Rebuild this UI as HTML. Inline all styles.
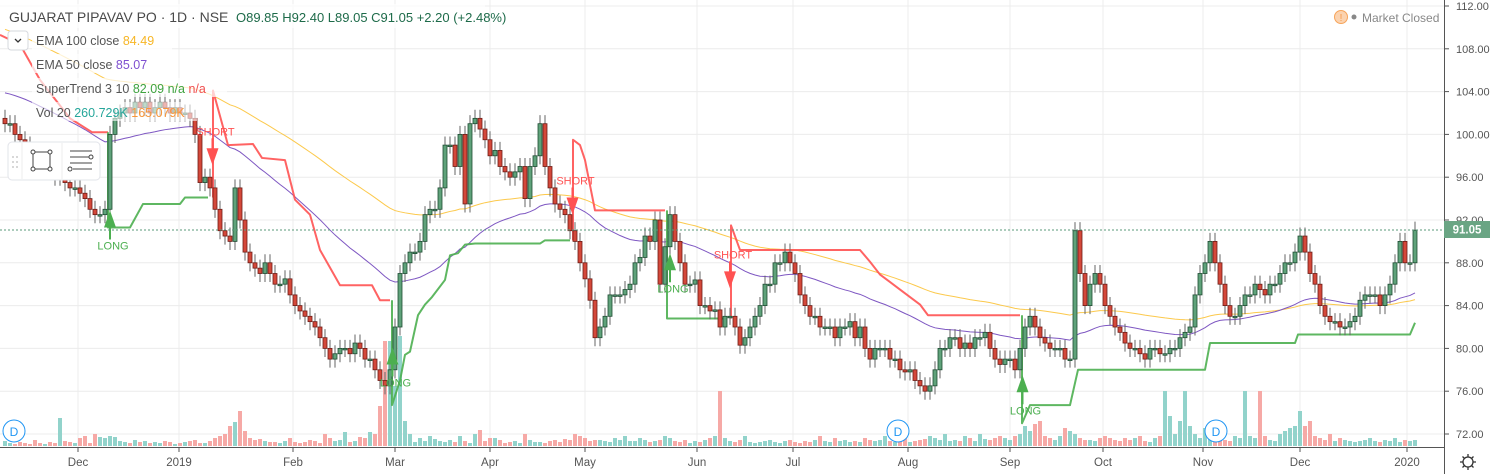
<!DOCTYPE html>
<html><head><meta charset="utf-8">
<style>
html,body{margin:0;padding:0;background:#fff;}
svg{display:block;font-family:"Liberation Sans",sans-serif;}
</style></head>
<body>
<svg id="chart" width="1494" height="474" viewBox="0 0 1494 474" xmlns="http://www.w3.org/2000/svg">
<rect x="0" y="0" width="1494" height="474" fill="#fff"/>
<g id="grid"></g>
<g id="vol"></g>
<g id="ema"></g>
<g id="st"></g>
<g id="candles"></g>
<g id="signals"></g>
<line x1="0" y1="230" x2="1444" y2="230" stroke="#5a9a7a" stroke-dasharray="2,2" stroke-width="1"/>
<g id="axes"></g>

<g>
  <rect x="0" y="4" width="485" height="24" fill="#fff" opacity="0.75"/>
  <text x="9" y="22" font-size="14" fill="#4a4a4a">GUJARAT PIPAVAV PO · 1D · NSE</text>
  <text x="236" y="22" font-size="13" fill="#1e6b4a">O89.85  H92.40  L89.05  C91.05  +2.20 (+2.48%)</text>
  <rect x="8" y="31" width="20" height="19" rx="3" fill="#fff" stroke="#d6d8de"/>
  <path d="M15 39 l3 3 l3 -3" fill="none" stroke="#333" stroke-width="1.3"/>
  <rect x="32" y="31" width="140" height="19" fill="#fff" opacity="0.75"/>
  <text x="36" y="45" font-size="12.5" fill="#555">EMA 100 close <tspan fill="#f7b626">84.49</tspan></text>
  <rect x="32" y="54" width="140" height="19" fill="#fff" opacity="0.75"/>
  <text x="36" y="69" font-size="12.5" fill="#555">EMA 50 close <tspan fill="#7e4fd0">85.07</tspan></text>
  <rect x="32" y="78" width="195" height="19" fill="#fff" opacity="0.7"/>
  <text x="36" y="93" font-size="12.5" fill="#555">SuperTrend 3 10 <tspan fill="#3fa33f">82.09</tspan> <tspan fill="#3fa33f">n/a</tspan> <tspan fill="#f05050">n/a</tspan></text>
  <rect x="32" y="102" width="165" height="19" fill="#fff" opacity="0.6"/>
  <text x="36" y="117" font-size="12.5" fill="#555">Vol 20 <tspan fill="#26a69a">260.729K</tspan> <tspan fill="#f7963a">165.079K</tspan></text>
</g>

<g>
  <rect x="8" y="142" width="92" height="38" rx="4" fill="#fff" stroke="#e2e4ea"/>
  <line x1="22" y1="143" x2="22" y2="179" stroke="#eee"/>
  <line x1="62" y1="143" x2="62" y2="179" stroke="#eee"/>
  <g fill="#ccc"><circle cx="13" cy="157" r="1"/><circle cx="17" cy="157" r="1"/><circle cx="13" cy="162" r="1"/><circle cx="17" cy="162" r="1"/><circle cx="13" cy="167" r="1"/><circle cx="17" cy="167" r="1"/></g>
  <g stroke="#444" fill="#fff" stroke-width="1">
    <rect x="33" y="152" width="17" height="17" fill="none"/>
    <circle cx="33" cy="152" r="2"/><circle cx="50" cy="152" r="2"/><circle cx="33" cy="169" r="2"/><circle cx="50" cy="169" r="2"/>
  </g>
  <g stroke="#444" fill="#fff" stroke-width="1">
    <line x1="70" y1="151" x2="92" y2="151"/><line x1="70" y1="157" x2="89" y2="157"/><circle cx="91" cy="157" r="2"/>
    <line x1="70" y1="163" x2="92" y2="163"/><line x1="73" y1="169" x2="92" y2="169"/><circle cx="70" cy="169" r="2"/>
  </g>
</g>

<g>
  <circle cx="1341" cy="17" r="6.5" fill="#fbd3b0" stroke="#f7a45a"/>
  <text x="1341" y="21" font-size="10" fill="#f79a4a" text-anchor="middle">!</text>
  <circle cx="1354" cy="17" r="2.5" fill="#888"/>
  <text x="1362" y="22" font-size="12" fill="#888">Market Closed</text>
</g>
<g>
  <circle cx="14" cy="431" r="11" fill="#fff" stroke="#2196f3"/><text x="14" y="436" font-size="12" fill="#2196f3" text-anchor="middle">D</text>
  <circle cx="898" cy="431" r="11" fill="#fff" stroke="#2196f3"/><text x="898" y="436" font-size="12" fill="#2196f3" text-anchor="middle">D</text>
  <circle cx="1216" cy="431" r="11" fill="#fff" stroke="#2196f3"/><text x="1216" y="436" font-size="12" fill="#2196f3" text-anchor="middle">D</text>
</g>
<rect x="1444" y="221" width="46" height="17" fill="#6aa584"/>
<text x="1467" y="233.5" font-size="11.5" font-weight="bold" fill="#fff" text-anchor="middle">91.05</text>
<g stroke="#333" fill="none" stroke-width="1.3">
  <circle cx="1468" cy="462" r="5"/>
  <path d="M1468 454v3M1468 467v3M1460 462h3M1473 462h3M1462.5 456.5l2 2M1471.5 465.5l2 2M1462.5 467.5l2-2M1471.5 458.5l2-2"/>
</g>

<script>
const closes=[101,101,100,99.5,99,98,97.5,97,97,96.5,
96,96,95.5,95,95,94.5,94,93,92.5,92.5,
93,100,101.5,102,102.5,102,103,102.5,103,102,
102.5,103,102.5,102,102.5,102,102,101.5,100,95.5,
96,95,93,91,90.5,90,95,92,89,88,
87.5,87,88,87,86,86,86.5,85,84,83.5,
83,82.5,82,81,80,79,79.5,80,80,79.5,
80.5,80,79,79,78,77,76.5,78,82,87,
88,89,89,90,92.5,93,93,95,99,99,
97,100,93.5,101,101.5,100.5,99.5,98,98.5,97,
96.5,96,96.5,97,94,97,98,101,97,95,
93.5,93,92.5,91,90,88,86.5,84.5,81,82,
83,85,85,85,85.5,86,88,88.5,90.5,90,
92,86,89.5,92.5,90,88,86,86,86.4,84,
84,83.5,83.6,82,83,83,82,80.3,81,82,
83,84,86,86,88,88,89,88,87,85,
84,83,83,82,82,82,81,82,82,82.5,
81,82,80,79,80,80,80,79,79,78,
77.8,78,77,76.5,76,76.5,78,80,80,81,
81,80,80.5,80,81,81,81.5,80,79,78.5,
79,79,78,80,82,83,82,81,80.5,80,
80,80,79,79,91,87,84,86,87,86,
84,83,82,81.5,80.5,80,80,79.5,79,80,
80,79.5,79.5,80,80,81,81.5,82,85,87,
88,90,88,86,84,83,83,84,85,85,
86,85.5,85,86,86,87,88,88,89,90.5,
89,87,86,84,83,82.5,82.5,82,82,82.5,
83,84.5,85,85,85,84,85,86,88,90,
88,88,91.05];
const volumes=[5,3,2,4,3,2,6,3,2,4,
3,28,5,4,3,8,10,3,12,9,
8,10,9,5,4,3,6,4,5,3,
4,3,5,4,2,3,4,5,6,3,
3,5,8,10,12,20,24,35,15,8,
6,7,5,4,4,3,5,8,4,3,
4,6,5,3,12,8,5,6,14,4,
5,9,8,14,12,40,105,105,60,110,
25,12,4,8,5,10,7,5,4,6,
4,10,5,3,12,16,5,8,8,6,
3,4,5,3,12,6,4,4,3,5,
6,4,7,6,12,10,8,5,6,6,
5,4,8,6,10,5,5,8,6,4,
5,6,10,8,5,4,6,3,5,4,
6,8,10,55,8,5,4,6,10,4,
3,4,5,6,4,3,5,6,4,3,
5,4,6,10,5,4,8,5,6,4,
5,4,8,6,5,6,10,5,4,6,
8,4,5,6,7,10,8,6,12,5,
6,5,10,8,5,12,7,6,8,10,
8,6,10,12,20,15,22,25,10,8,
6,10,18,15,12,8,6,6,5,8,
10,8,6,5,8,6,8,10,5,4,
8,10,55,30,12,25,55,20,12,8,
18,10,8,12,6,5,10,8,55,10,
8,55,10,6,5,12,15,18,20,35,
20,25,10,8,6,12,5,8,6,5,
4,5,6,8,5,4,6,5,8,4,6,5,6];
const stRed1=[[-1,109.3],[3,108.4],[7,105.1],[13,101.5],[17.4,100.2],[20.6,100.2]];
const stGreen1=[[20.6,91.3],[25,91.3],[27.6,93.5],[35,93.5],[36,94.1],[40.6,94.1]];
const stRed2=[[41.6,104.1],[44.6,99],[49.6,99.1],[51.4,97.8],[56,97.6],[58,93.9],[61,92.5],[63,89.2],[67,85.9],[73.4,85.9],[75,84.5],[77,84.5]];
const stGreen2=[[77.4,74.7],[79,77],[80,79.4],[81,79.7],[82.6,83.1],[84,84.1],[85.4,84.8],[88,86.4],[89,88.7],[90.6,88.9],[92,89.7],[94,89.8],[107,89.8],[108,90.1],[113,90.1]];
const stRed3=[[113.6,99.5],[115,99],[116,97.6],[118,92.9],[132,92.9]];
const stGreen3=[[132.4,82.8],[144.4,82.8]];
const stRed4=[[145.2,91.5],[147,89.2],[171,89.2],[173,88.1],[175,86.9],[179,85.5],[183,84.1],[184.6,83.1],[203,83.1]];
const stGreen4=[[203.4,73],[205,74.7],[213,74.7],[214.6,78],[240,78],[241,80.5],[258,80.5],[258.6,81.3],[281,81.3],[282,82.4]];
const signalIdx=[21,41.5,77.5,113.5,133,145,203.5];
const signalType=["LONG","SHORT","LONG","SHORT","LONG","SHORT","LONG"];
const signalPrice=[91.3,98.7,78.5,94.1,87.3,87.2,75.9];
const priceTicks=[112,108,104,100,96,92,88,84,80,76,72];
const priceTickLabels=["112.00","108.00","104.00","100.00","96.00","92.00","88.00","84.00","80.00","76.00","72.00"];
const monthIdx=[14.6,34.8,57.6,78,97,116,138.4,157.6,180.6,201,219.6,239.6,259,280.4];
const monthLabels=["Dec","2019","Feb","Mar","Apr","May","Jun","Jul","Aug","Sep","Oct","Nov","Dec","2020"];
const emaSeed50=104, emaSeed100=110;

const NS="http://www.w3.org/2000/svg";
const xS=i=>5+5*i;
const yS=p=>434-(p-72)*10.7;
const volBase=446, volScale=1;
function mk(tag,attrs,parent){const e=document.createElementNS(NS,tag);for(const k in attrs)e.setAttribute(k,attrs[k]);parent.appendChild(e);return e;}
const G=id=>document.getElementById(id);

const grid=G('grid');
priceTicks.forEach(p=>{const l=mk('line',{x1:0,x2:1444,y1:yS(p),y2:yS(p),stroke:'#ececec'},grid);

});
monthIdx.forEach(i=>{const l=mk('line',{x1:xS(i),x2:xS(i),y1:0,y2:447,stroke:'#ececec'},grid);

});

const vol=G('vol');
volumes.forEach((v,i)=>{const up=i===0?true:closes[i]>=closes[i-1];const h=Math.max(1,v*volScale);
const r=mk('rect',{x:xS(i)-2,y:volBase-h,width:4,height:h,fill:up?'#92d3cb':'#f6a9a6'},vol);

});

function ema(seed,n){const a=2/(n+1);let e=seed;return closes.map(c=>(e=e+a*(c-e)));}
const e50=ema(emaSeed50,50),e100=ema(emaSeed100,100);
const emaG=G('ema');
const p100=mk('polyline',{points:e100.map((v,i)=>xS(i)+','+yS(v)).join(' '),fill:'none',stroke:'#fbc02d',"stroke-width":1,opacity:0.85},emaG);


const p50=mk('polyline',{points:e50.map((v,i)=>xS(i)+','+yS(v)).join(' '),fill:'none',stroke:'#7e57c2',"stroke-width":1},emaG);



const st=G('st');
const segs=[[stRed1,'r'],[stGreen1,'g'],[stRed2,'r'],[stGreen2,'g'],[stRed3,'r'],[stGreen3,'g'],[stRed4,'r'],[stGreen4,'g']];
let prev=null;
segs.forEach(([pts,c])=>{let all=pts.slice();if(prev){all=[[pts[0][0],prev[1]]].concat(all);}
const pl=mk('polyline',{points:all.map(p=>xS(p[0])+','+yS(p[1])).join(' '),fill:'none',stroke:c==='r'?'#ff5252':'#4caf50',"stroke-width":2,opacity:0.9,"stroke-linejoin":"round"},st);


prev=pts[pts.length-1];});

const cg=G('candles');
closes.forEach((c,i)=>{const o=i===0?c+0.5:closes[i-1];const up=c>=o;const hi=Math.max(o,c)+0.8,lo=Math.min(o,c)-0.8;const x=xS(i);
const w=mk('line',{x1:x,x2:x,y1:yS(hi),y2:yS(lo),stroke:'#666'},cg);


const top=yS(Math.max(o,c)),h=Math.max(1.5,Math.abs(yS(o)-yS(c)));
const b=mk('rect',{x:x-2,y:top,width:4,height:h,fill:up?'#5fa27a':'#d4483a',stroke:up?'#1f4d33':'#6e1c16',"stroke-width":0.8},cg);

});

const sg=G('signals');
signalIdx.forEach((i,k)=>{const x=xS(i),y=yS(signalPrice[k]);const L=signalType[k]==='LONG';
let t;
if(L){t=mk('path',{d:`M${x-6} ${y} L${x} ${y-17} L${x+6} ${y} Z`,fill:'#4caf50'},sg);
mk('line',{x1:x,x2:x,y1:y-5,y2:y+12,stroke:'#4caf50',"stroke-width":2},sg);}
else{t=mk('path',{d:`M${x-6} ${y} L${x} ${y+17} L${x+6} ${y} Z`,fill:'#ff5252'},sg);
mk('line',{x1:x,x2:x,y1:y-10,y2:y+5,stroke:'#ff5252',"stroke-width":2},sg);}


const tx=mk('text',{x:x+3,y:L?y+22:y-13,"font-size":11,fill:L?'#4caf50':'#ff5252',"text-anchor":"middle"},sg);
tx.textContent=signalType[k];

});

const ax=G('axes');
mk('rect',{x:0,y:448,width:1444,height:26,fill:'#fff'},ax);
mk('line',{x1:1444.5,x2:1444.5,y1:0,y2:474,stroke:'#555'},ax);
mk('line',{x1:0,x2:1444,y1:447.5,y2:447.5,stroke:'#555'},ax);
priceTicks.forEach((p,k)=>{mk('line',{x1:1444,x2:1449,y1:yS(p),y2:yS(p),stroke:'#555'},ax);
const t=mk('text',{x:1456,y:yS(p)+4,"font-size":11,fill:'#555'},ax);t.textContent=priceTickLabels[k];

});
monthIdx.forEach((i,k)=>{mk('line',{x1:xS(i),x2:xS(i),y1:447,y2:452,stroke:'#555'},ax);
const t=mk('text',{x:xS(i),y:466,"font-size":11.5,fill:'#555',"text-anchor":"middle"},ax);t.textContent=monthLabels[k];

});
</script>
</svg>
</body></html>
